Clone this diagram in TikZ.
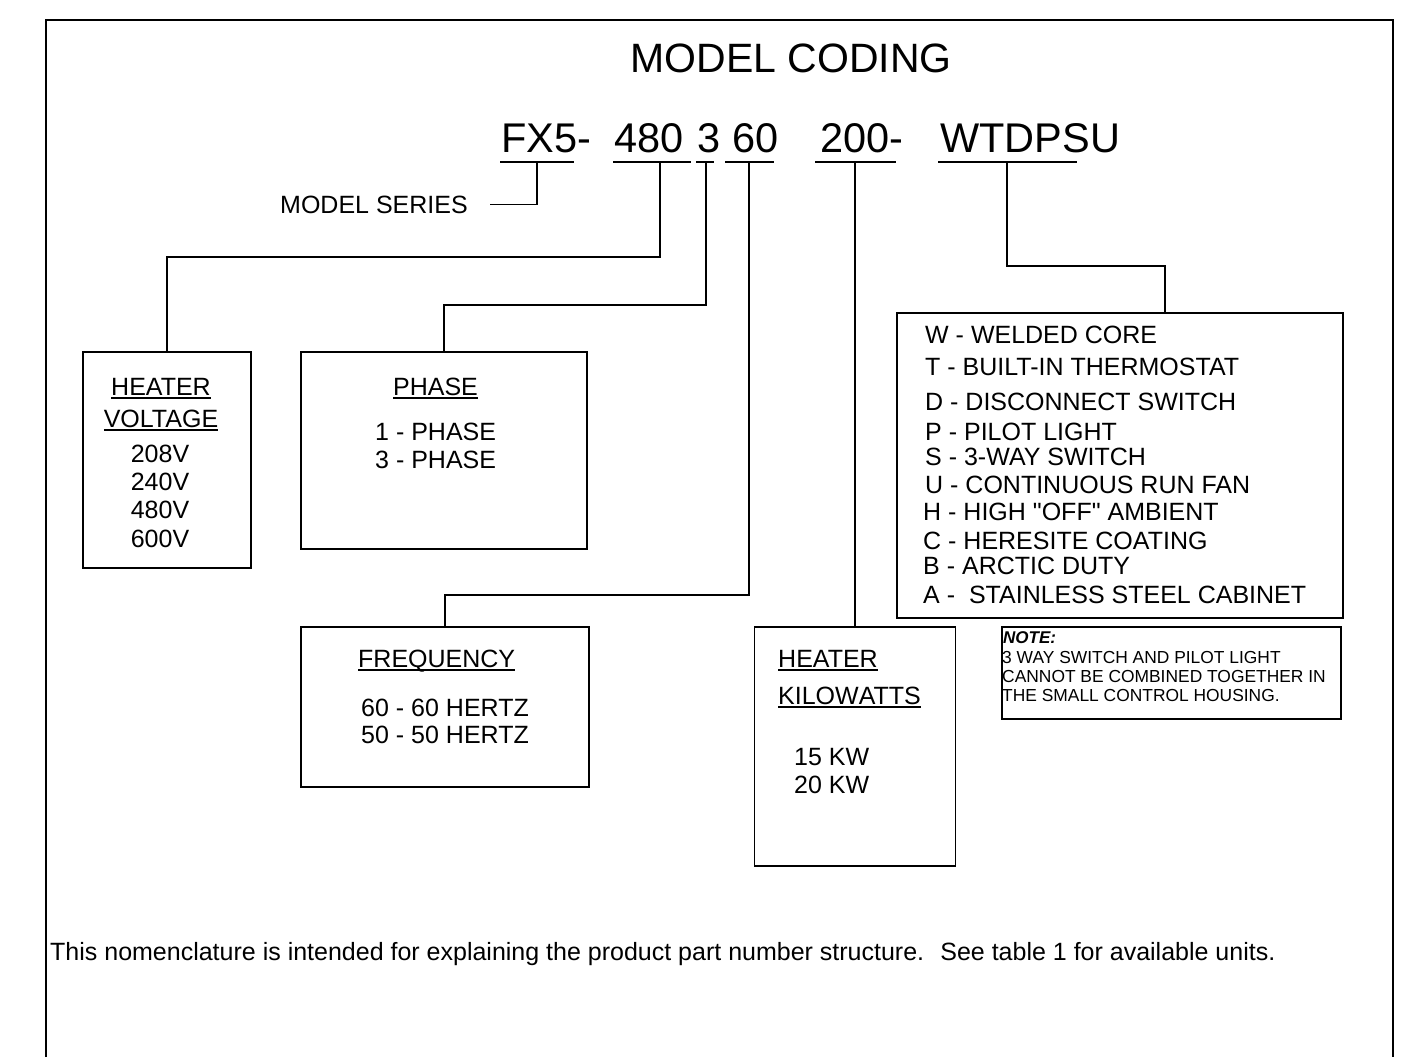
\documentclass[tikz,border=0pt]{standalone}
\usepackage{fontspec}
\setmainfont{Liberation Sans}
\newcommand{\ulin}[1]{\setbox0\hbox{#1}\rlap{\rule[-4pt]{\wd0}{1.6pt}}\box0}
\begin{document}
\begin{tikzpicture}[x=1pt,y=-1pt,
    txt/.style={anchor=base west, inner sep=0pt, font=\fontsize{25}{30}\selectfont},
    ctxt/.style={anchor=base, inner sep=0pt, font=\fontsize{25}{30}\selectfont},
    code/.style={anchor=base west, inner sep=0pt, font=\fontsize{41.5}{48}\selectfont},
    note/.style={anchor=base west, inner sep=0pt, font=\fontsize{17.4}{19}\selectfont},
    box/.style={draw, line width=1.6pt, inner sep=0pt},
    wire/.style={line width=1.2pt}]
    \useasboundingbox (0,0) rectangle (1407,1057);
    \draw[line width=2.4pt] (46,1057) -- (46,20) -- (1393,20) -- (1393,1057);

    \node[anchor=base, inner sep=0pt, font=\fontsize{41}{48}\selectfont] (title) at (791,73) {MODEL CODING};

    % the code
    \node[code] (fx) at (501,152) {FX5-};
    \node[code] (v480) at (614,152) {480};
    \node[code] (v3) at (697,152) {3};
    \node[code] (v60) at (732,152) {60};
    \node[code] (v200) at (820,152) {200-};
    \node[code] (vopt) at (940,152) {WTDPSU};
    \draw[wire] (500,162) -- (574,162);
    \draw[wire] (613,162) -- (691,162);
    \draw[wire] (696,162) -- (714,162);
    \draw[wire] (725,162) -- (774,162);
    \draw[wire] (815,162) -- (896,162);
    \draw[wire] (938,162) -- (1077,162);
    \coordinate (c5) at (537,162);
    \coordinate (c480) at (660,162);
    \coordinate (c3) at (706,162);
    \coordinate (c60) at (749,162);
    \coordinate (c200) at (855,162);
    \coordinate (cW) at (1007,162);

    \node[txt] (ms) at (280,213) {MODEL SERIES};

    % boxes
    \node[box, minimum width=168, minimum height=216] (hv) at (167,460) {};
    \node[box, minimum width=286, minimum height=197] (ph) at (444,450.5) {};
    \node[box, minimum width=288, minimum height=160] (fr) at (445,707) {};
    \node[box, minimum width=201, minimum height=239] (kw) at (855,746.5) {};
    \node[box, minimum width=446, minimum height=305] (opt) at (1120,465.5) {};
    \node[draw, line width=2.6pt, inner sep=0pt, minimum width=339, minimum height=92] (nt) at (1171.5,673) {};

    % connectors
    \draw[wire] (c5) |- ([xshift=22pt]ms.east);
    \draw[wire] (c480) -- ++(0,95) -| (hv.north);
    \draw[wire] (c3) -- ++(0,143) -| (ph.north);
    \draw[wire] (c60) -- ++(0,433) -| (fr.north);
    \draw[wire] (c200) -- (kw.north);
    \draw[wire] (cW) -- ++(0,104) -| ([xshift=45pt]opt.north);

    % heater voltage
    \node[ctxt] (hv1) at (161,395) {\ulin{HEATER}};
    \node[ctxt] (hv2) at (161,427) {\ulin{VOLTAGE}};
    \node[ctxt] (hv3) at (160,462) {208V};
    \node[ctxt] (hv4) at (160,490) {240V};
    \node[ctxt] (hv5) at (160,518) {480V};
    \node[ctxt] (hv6) at (160,547) {600V};

    % phase
    \node[ctxt] (ph1) at (435.5,395) {\ulin{PHASE}};
    \node[txt] (ph2) at (375,440) {1 - PHASE};
    \node[txt] (ph3) at (375,468) {3 - PHASE};

    % frequency
    \node[txt] (fr1) at (358,667) {\ulin{FREQUENCY}};
    \node[txt] (fr2) at (361,716) {60 - 60 HERTZ};
    \node[txt] (fr3) at (361,743) {50 - 50 HERTZ};

    % kilowatts
    \node[txt] (kw1) at (778,667) {\ulin{HEATER}};
    \node[txt] (kw2) at (778,704) {\ulin{KILOW}\ulin{ATTS}};
    \node[txt] (kw3) at (794,765) {15 KW};
    \node[txt] (kw4) at (794,793) {20 KW};

    % options
    \node[txt] (o1) at (925,343) {W - WELDED CORE};
    \node[txt] (o2) at (925,375) {T - BUILT-IN THERMOSTAT};
    \node[txt] (o3) at (925,410) {D - DISCONNECT SWITCH};
    \node[txt] (o4) at (925,440) {P - PILOT LIGHT};
    \node[txt] (o5) at (925,465) {S - 3-WAY SWITCH};
    \node[txt] (o6) at (925,493) {U - CONTINUOUS RUN FAN};
    \node[txt] (o7) at (923,520) {H - HIGH \textquotedbl OFF\textquotedbl{} AMBIENT};
    \node[txt] (o8) at (923,549) {C - HERESITE COATING};
    \node[txt] (o9) at (923,574) {B - ARCTIC DUTY};
    \node[txt] (o10) at (923,603) {A -~ STAINLESS STEEL CABINET};

    % note
    \node[note, font=\fontsize{17}{19}\selectfont\bfseries\itshape] (nt1) at (1003,643) {NOTE:};
    \node[note] (nt2) at (1002,663) {3 WAY SWITCH AND PILOT LIGHT};
    \node[note] (nt3) at (1002,682) {CANNOT BE COMBINED TOGETHER IN};
    \node[note] (nt4) at (1002,701) {THE SMALL CONTROL HOUSING.};

    \node[txt] (foot) at (50,960) {This nomenclature is intended for explaining the product part number structure.~ See table 1 for available units.};
\end{tikzpicture}
\end{document}
